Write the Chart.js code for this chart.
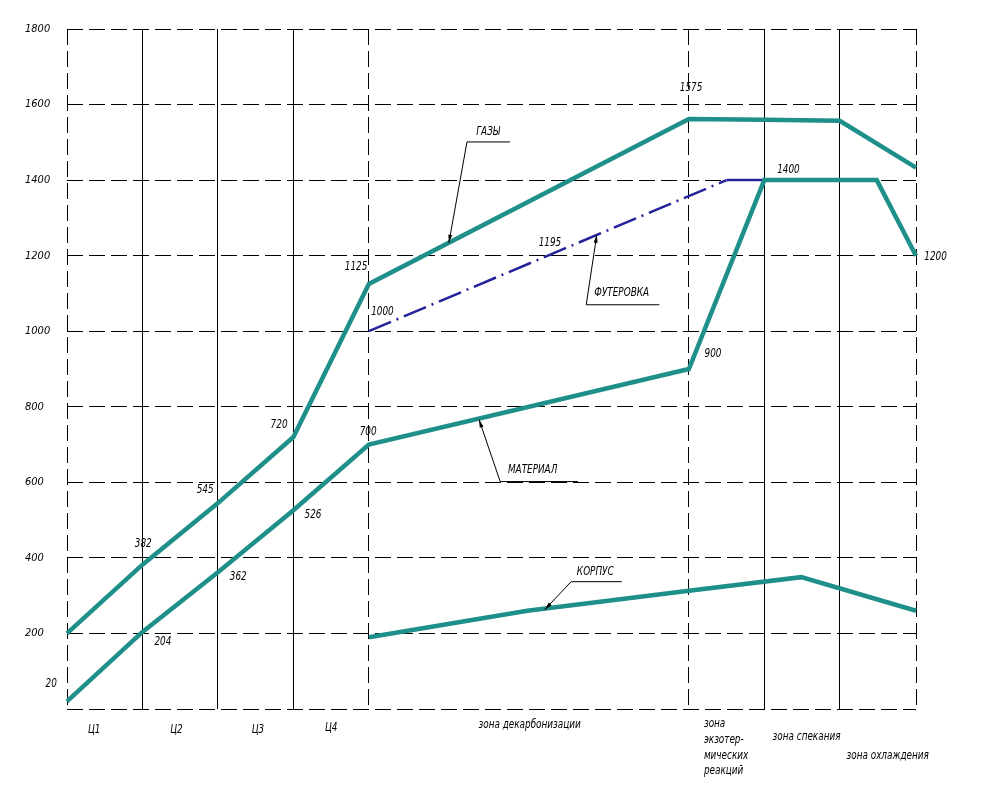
<!DOCTYPE html>
<html>
<head>
<meta charset="utf-8">
<script src="https://cdn.jsdelivr.net/npm/chart.js@4.4.1/dist/chart.umd.min.js"></script>
<style>
    body { margin: 0; background: #fff; }
    canvas { display: block; }
</style>
</head>
<body>
<canvas id="kilnChart" width="988" height="791"></canvas>
<script>
// zone boundaries along the kiln (x units), dashed ones are zone borders
const zoneBounds = [0, 1, 2, 3, 4, 8.24, 9.24, 10.24, 11.25];
const dashedBounds = [0, 4, 8.24, 11.25];

// temperatures, °C
const gasX = [0, 1, 2, 3, 4, 8.24, 9.24, 10.24, 11.25];
const gasT = [200, 382, 545, 720, 1125, 1562, 1560, 1557, 1433];

const materialX = [0, 1, 2, 3, 4, 8.24, 9.24, 10.73, 11.25];
const materialT = [20, 204, 362, 526, 700, 900, 1400, 1400, 1200];

const liningX = [4, 8.74, 9.24];
const liningT = [1000, 1400, 1400];

const shellX = [4, 6.1, 8.24, 9.73, 11.25];
const shellT = [190, 260, 313, 349, 260];

// value labels: text, x, temperature
const valueLabels = [
    ['1125', 3.83, 1170], ['1000', 4.18, 1052], ['720', 2.81, 752], ['700', 3.99, 734],
    ['545', 1.83, 580], ['526', 3.26, 514], ['382', 1.01, 437], ['362', 2.27, 350],
    ['204', 1.27, 178], ['20', -0.21, 67], ['1575', 8.27, 1645], ['1400', 9.56, 1428],
    ['1200', 11.51, 1196], ['900', 8.56, 941], ['1195', 6.40, 1234]
];

// zone names under the axis: text, x, temperature, align
const zoneLabels = [
    ['Ц1', 0.36, -55, 'center'], ['Ц2', 1.45, -55, 'center'], ['Ц3', 2.53, -55, 'center'],
    ['Ц4', 3.5, -50, 'center'], ['зона декарбонизации', 6.13, -42, 'center'],
    ['зона', 8.44, -39, 'left'], ['экзотер-', 8.44, -81, 'left'],
    ['мических', 8.44, -123, 'left'], ['реакций', 8.44, -163, 'left'],
    ['зона спекания', 9.35, -73, 'left'], ['зона охлаждения', 10.33, -123, 'left']
];

// leader callouts: text pos, shelf [x1, x2, t], arrow tip [x, t]
const callouts = [
    { text: 'ГАЗЫ', x: 5.58, t: 1528, shelf: [5.30, 5.87, 1501], tip: [5.06, 1234] },
    { text: 'ФУТЕРОВКА', x: 7.35, t: 1102, shelf: [6.88, 7.85, 1070], tip: [7.02, 1255] },
    { text: 'МАТЕРИАЛ', x: 6.17, t: 634, shelf: [5.74, 6.77, 602], tip: [5.46, 766] },
    { text: 'КОРПУС', x: 7.0, t: 363, shelf: [6.68, 7.35, 337], tip: [6.33, 263] }
];

const teal = '#1f8f8a';
const navy = '#22229a';
const cadFont = "'DejaVu Sans Condensed', 'Liberation Sans Narrow', sans-serif";

function toPoints(xs, ts) {
    return xs.map((x, i) => ({ x: x, y: ts[i] }));
}

function lineSet(label, xs, ts, color, width) {
    return {
        label: label,
        data: toPoints(xs, ts),
        borderColor: color,
        backgroundColor: color,
        borderWidth: width,
        pointRadius: 0,
        tension: 0,
        clip: false
    };
}

// draws text squeezed horizontally, like the narrow CAD font of the original
function narrowText(ctx, text, x, y, align) {
    const squeeze = 0.82;
    ctx.save();
    ctx.translate(x, y);
    ctx.scale(squeeze, 1);
    ctx.textAlign = align;
    ctx.fillText(text, 0, 0);
    ctx.restore();
}

const annotations = {
    id: 'annotations',
    afterDatasetsDraw(chart) {
        const ctx = chart.ctx;
        const xs = chart.scales.x;
        const ys = chart.scales.y;
        const px = v => xs.getPixelForValue(v);
        const py = v => ys.getPixelForValue(v);
        ctx.save();
        ctx.fillStyle = '#000';
        ctx.strokeStyle = '#000';
        ctx.font = 'italic 12px ' + cadFont;
        ctx.textBaseline = 'middle';

        valueLabels.forEach(([text, x, t]) => narrowText(ctx, text, px(x), py(t), 'center'));

        zoneLabels.forEach(([text, x, t, align]) => narrowText(ctx, text, px(x), py(t), align));

        ctx.lineWidth = 1;
        callouts.forEach(c => {
            narrowText(ctx, c.text, px(c.x), py(c.t), 'center');
            const sx = px(c.shelf[0]), sy = py(c.shelf[2]);
            const tx = px(c.tip[0]), ty = py(c.tip[1]);
            ctx.beginPath();
            ctx.moveTo(px(c.shelf[1]), sy);
            ctx.lineTo(sx, sy);
            ctx.lineTo(tx, ty);
            ctx.stroke();
            // arrow head
            const a = Math.atan2(ty - sy, tx - sx);
            ctx.beginPath();
            ctx.moveTo(tx, ty);
            ctx.lineTo(tx - 8 * Math.cos(a) + 2 * Math.sin(a), ty - 8 * Math.sin(a) - 2 * Math.cos(a));
            ctx.lineTo(tx - 8 * Math.cos(a) - 2 * Math.sin(a), ty - 8 * Math.sin(a) + 2 * Math.cos(a));
            ctx.closePath();
            ctx.fill();
        });
        ctx.restore();
    }
};

const lining = lineSet('ФУТЕРОВКА', liningX, liningT, navy, 2.5);
lining.borderDash = [24, 6, 2, 6];
lining.segment = { borderDash: ctx => ctx.p0DataIndex === 1 ? [] : undefined };

new Chart(document.getElementById('kilnChart'), {
    type: 'line',
    data: {
        datasets: [
            lineSet('ГАЗЫ', gasX, gasT, teal, 4.5),
            lineSet('МАТЕРИАЛ', materialX, materialT, teal, 4.5),
            lining,
            lineSet('КОРПУС', shellX, shellT, teal, 4.5)
        ]
    },
    options: {
        responsive: false,
        animation: false,
        devicePixelRatio: 1,
        layout: { padding: { left: 25, right: 72, top: 29, bottom: 82 } },
        plugins: {
            legend: { display: false },
            tooltip: { enabled: false }
        },
        scales: {
            x: {
                type: 'linear',
                min: 0,
                max: 11.25,
                afterBuildTicks: scale => { scale.ticks = zoneBounds.map(v => ({ value: v })); },
                afterFit: scale => { scale.height = 0; },
                ticks: { display: false },
                grid: { color: '#000', lineWidth: 1, drawTicks: false },
                border: {
                    display: false,
                    dash: ctx => (ctx.tick && dashedBounds.includes(ctx.tick.value)) ? [16, 6] : []
                }
            },
            y: {
                min: 0,
                max: 1800,
                afterFit: scale => { scale.width = 42; },
                ticks: {
                    stepSize: 200,
                    color: '#000',
                    crossAlign: 'far',
                    font: { family: cadFont, size: 11, style: 'italic' },
                    callback: v => v === 0 ? '' : v
                },
                grid: { color: '#000', lineWidth: 1, drawTicks: false },
                border: { display: false, dash: [16, 6] }
            }
        }
    },
    plugins: [annotations]
});
</script>
</body>
</html>
